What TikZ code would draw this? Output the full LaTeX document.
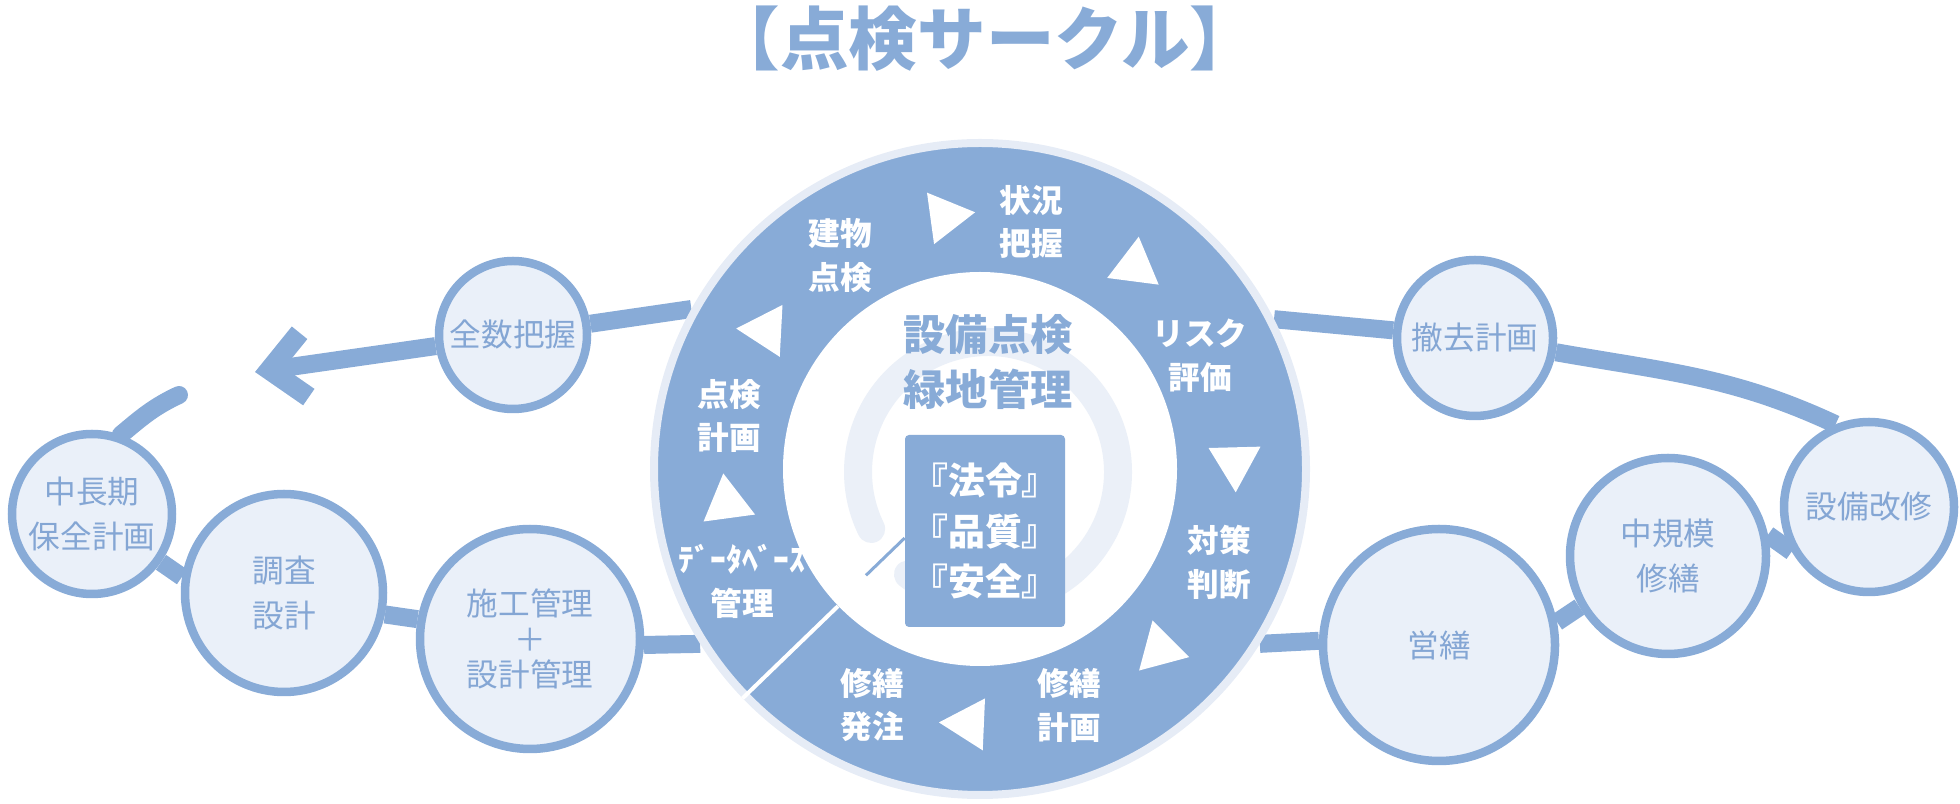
\documentclass[tikz,border=0pt]{standalone}
\usepackage{fontspec}
\setmainfont{Noto Sans CJK JP}
\usetikzlibrary{arrows.meta, shapes.geometric, backgrounds, calc}

\definecolor{ringblue}{RGB}{136,171,215}
\definecolor{ringedge}{RGB}{230,236,246}
\definecolor{satfill}{RGB}{234,240,249}
\definecolor{faintarc}{RGB}{235,240,248}
\definecolor{sattext}{RGB}{132,166,212}

\begin{document}
\begin{tikzpicture}[
    satellite/.style={circle, draw=ringblue, line width=0.17cm, fill=satfill, minimum size=#1, inner sep=0pt, align=center, text=sattext, font=\fontsize{18}{26}\selectfont},
    link/.style={draw=ringblue, line width=0.36cm},
    steplabel/.style={text=white, align=center, font=\bfseries\fontsize{18}{25}\selectfont},
    arrowtri/.style={regular polygon, regular polygon sides=3, fill=white, minimum size=1.2cm, inner sep=0pt}
]
\useasboundingbox (0,0) rectangle (39.2,16.08);

% --- Title ---
\node[text=ringblue, font=\bfseries\fontsize{39}{40}\selectfont] (title) at (19.70, 15.30) {【点検サークル】};

% --- Ring ---
\node[circle, draw=ringedge, line width=0.16cm, fill=ringblue, minimum size=13.04cm, inner sep=0pt] (ring) at (19.60, 6.70) {};
\node[circle, fill=white, minimum size=7.88cm, inner sep=0pt] (hub) at (ring.center) {};
\draw[white, line width=0.08cm] (hub.224) -- (ring.224);

% faint arc inside the hub
\draw[faintarc, line width=0.56cm, line cap=round] (19.76, 6.64) ++(232:2.6) arc[start angle=232, end angle=566, radius=2.6];

% --- Centre ---
\node[text=ringblue, align=center, font=\bfseries\fontsize{24}{31}\selectfont] (theme) at (19.76, 8.84) {設備点検\\緑地管理};
\node[fill=ringblue, rounded corners=0.08cm, minimum width=3.2cm, minimum height=3.84cm, inner sep=0pt, text=white, align=center, font=\bfseries\fontsize{21}{28.5}\selectfont] (info) at (19.70, 5.46) {『法令』\\『品質』\\『安全』};
\coordinate (leadend) at ($(ring.center)+(223:3.12)$);
\draw[ringblue, line width=0.06cm] (leadend) -- (info.185);

% --- Direction marks ---
\foreach \a [count=\i] in {97.8, 52.6, 1.5, -45, -92.5, 187.7, 147} {
    \node[arrowtri, rotate=\a-180] (tri\i) at ($(ring.center)+(\a:5.10)$) {};
}

% --- Steps on the ring ---
\node[steplabel] (jokyo)   at (20.62, 11.64) {状況\\把握};
\node[steplabel] (risk)    at (24.00, 8.96)  {リスク\\評価};
\node[steplabel] (taisaku) at (24.38, 4.84)  {対策\\判断};
\node[steplabel] (keikaku) at (21.38, 1.98)  {修繕\\計画};
\node[steplabel] (hatchu)  at (17.44, 1.98)  {修繕\\発注};
\node[steplabel] (dbkanri) at (14.84, 4.46)  {ﾃﾞｰﾀﾍﾞｰｽ\\管理};
\node[steplabel] (tenken)  at (14.58, 7.76)  {点検\\計画};
\node[steplabel] (tatemono) at (16.80, 10.96) {建物\\点検};

% --- Satellites ---
\node[satellite=2.96cm] (zensu)    at (10.26, 9.38) {全数把握};
\node[satellite=3.20cm] (chuchoki) at (1.84, 5.80)  {中長期\\保全計画};
\node[satellite=3.96cm] (chosa)    at (5.68, 4.22)  {調査\\設計};
\node[satellite=4.40cm, font=\fontsize{18}{20}\selectfont] (seko) at (10.60, 3.30) {施工管理\\＋\\設計管理};
\node[satellite=3.12cm] (tekkyo)   at (29.50, 9.32) {撤去計画};
\node[satellite=3.40cm] (kaishu)   at (37.38, 5.94) {設備改修};
\node[satellite=3.92cm] (chukibo)  at (33.36, 4.96) {中規模\\修繕};
\node[satellite=4.64cm] (eizen)    at (28.78, 3.18) {営繕};

\coordinate (arrowend) at (5.10, 8.64);
\coordinate (loopend)  at (3.58, 8.18);

% --- Connectors ---
\begin{pgfonlayer}{background}
\draw[link] (ring.151) -- (zensu);
\draw[link, -{Straight Barb[length=0.7cm, width=1.3cm, line width=0.4cm]}] (zensu) -- (arrowend);
\draw[link, line cap=round] (chuchoki.70) to[out=40, in=205] (loopend);
\draw[link] (chuchoki.-35) -- (chosa.171);
\draw[link] (chosa.-12) -- (seko.170);
\draw[link] (seko.-3) -- (ring.212);
\draw[link] (ring.-32) -- (eizen.178);
\draw[link] (eizen.11) -- (chukibo.210);
\draw[link] (chukibo.12) -- (kaishu.210);
\draw[link] (tekkyo) to[out=-10, in=155] (kaishu.112);
\draw[link] (ring.27) -- (tekkyo);
\end{pgfonlayer}

\end{tikzpicture}
\end{document}
